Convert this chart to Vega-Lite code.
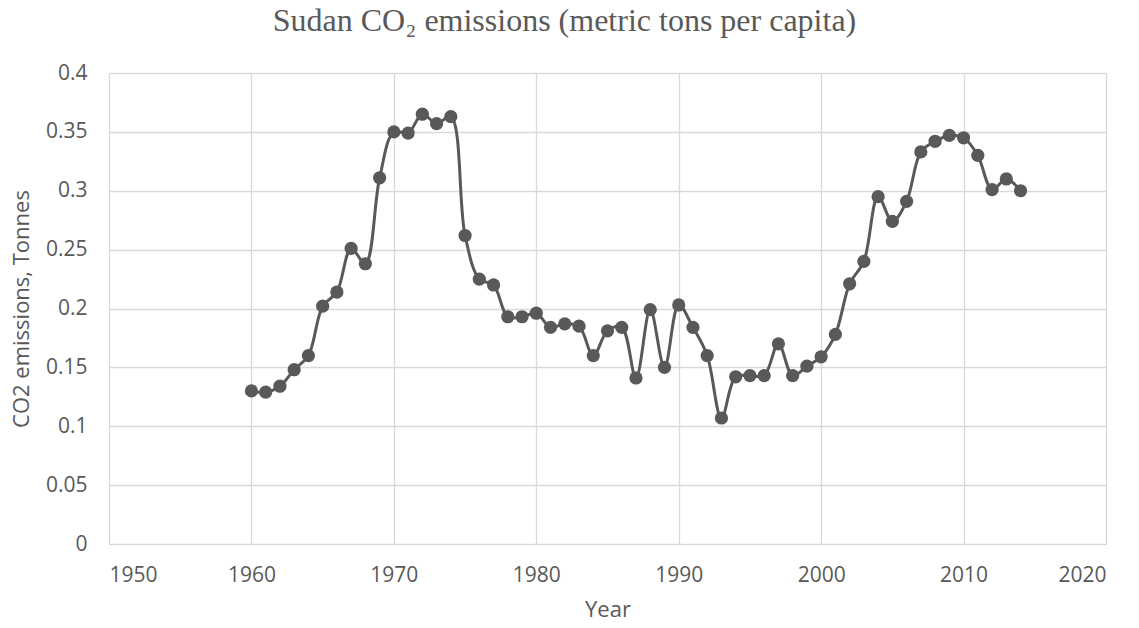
{
  "$schema": "https://vega.github.io/schema/vega-lite/v6.json",
  "width": 997,
  "height": 471,
  "autosize": {"type": "none"},
  "padding": {"left": 109, "top": 73, "right": 33, "bottom": 84},
  "background": "white",
  "title": {
    "text": "Sudan CO₂ emissions (metric tons per capita)",
    "font": "Liberation Serif",
    "fontSize": 32,
    "fontWeight": "normal",
    "color": "#595959",
    "anchor": "middle",
    "offset": 24,
    "dx": -43
  },
  "data": {
    "values": [
      {"Year": 1960, "CO2": 0.130},
      {"Year": 1961, "CO2": 0.129},
      {"Year": 1962, "CO2": 0.134},
      {"Year": 1963, "CO2": 0.148},
      {"Year": 1964, "CO2": 0.160},
      {"Year": 1965, "CO2": 0.202},
      {"Year": 1966, "CO2": 0.214},
      {"Year": 1967, "CO2": 0.251},
      {"Year": 1968, "CO2": 0.238},
      {"Year": 1969, "CO2": 0.311},
      {"Year": 1970, "CO2": 0.350},
      {"Year": 1971, "CO2": 0.349},
      {"Year": 1972, "CO2": 0.365},
      {"Year": 1973, "CO2": 0.357},
      {"Year": 1974, "CO2": 0.363},
      {"Year": 1975, "CO2": 0.262},
      {"Year": 1976, "CO2": 0.225},
      {"Year": 1977, "CO2": 0.220},
      {"Year": 1978, "CO2": 0.193},
      {"Year": 1979, "CO2": 0.193},
      {"Year": 1980, "CO2": 0.196},
      {"Year": 1981, "CO2": 0.184},
      {"Year": 1982, "CO2": 0.187},
      {"Year": 1983, "CO2": 0.185},
      {"Year": 1984, "CO2": 0.160},
      {"Year": 1985, "CO2": 0.181},
      {"Year": 1986, "CO2": 0.184},
      {"Year": 1987, "CO2": 0.141},
      {"Year": 1988, "CO2": 0.199},
      {"Year": 1989, "CO2": 0.150},
      {"Year": 1990, "CO2": 0.203},
      {"Year": 1991, "CO2": 0.184},
      {"Year": 1992, "CO2": 0.160},
      {"Year": 1993, "CO2": 0.107},
      {"Year": 1994, "CO2": 0.142},
      {"Year": 1995, "CO2": 0.143},
      {"Year": 1996, "CO2": 0.143},
      {"Year": 1997, "CO2": 0.170},
      {"Year": 1998, "CO2": 0.143},
      {"Year": 1999, "CO2": 0.151},
      {"Year": 2000, "CO2": 0.159},
      {"Year": 2001, "CO2": 0.178},
      {"Year": 2002, "CO2": 0.221},
      {"Year": 2003, "CO2": 0.240},
      {"Year": 2004, "CO2": 0.295},
      {"Year": 2005, "CO2": 0.274},
      {"Year": 2006, "CO2": 0.291},
      {"Year": 2007, "CO2": 0.333},
      {"Year": 2008, "CO2": 0.342},
      {"Year": 2009, "CO2": 0.347},
      {"Year": 2010, "CO2": 0.345},
      {"Year": 2011, "CO2": 0.330},
      {"Year": 2012, "CO2": 0.301},
      {"Year": 2013, "CO2": 0.310},
      {"Year": 2014, "CO2": 0.300}
    ]
  },
  "encoding": {
    "x": {
      "field": "Year",
      "type": "quantitative",
      "scale": {"domain": [1950, 2020], "nice": false, "zero": false},
      "axis": {"values": [1950, 1960, 1970, 1980, 1990, 2000, 2010, 2020], "format": "d", "title": "Year", "labelPadding": 20, "titlePadding": 14}
    },
    "y": {
      "field": "CO2",
      "type": "quantitative",
      "scale": {"domain": [0, 0.4], "nice": false},
      "axis": {"values": [0, 0.05, 0.1, 0.15, 0.2, 0.25, 0.3, 0.35, 0.4], "format": "~g", "title": "CO2 emissions, Tonnes", "labelPadding": 22, "titlePadding": 12}
    }
  },
  "layer": [
    {
      "mark": {"type": "line", "color": "#595959", "strokeWidth": 3, "interpolate": "catmull-rom"}
    },
    {
      "mark": {"type": "point", "filled": true, "opacity": 1, "color": "#595959", "size": 175}
    }
  ],
  "config": {
    "view": {"stroke": null},
    "axis": {
      "domain": false,
      "ticks": false,
      "grid": true,
      "gridColor": "#d9d9d9",
      "gridWidth": 1.3,
      "labelFont": "Open Sans",
      "labelFontSize": 21,
      "labelColor": "#595959",
      "titleFont": "Open Sans",
      "titleFontSize": 22,
      "titleFontWeight": "normal",
      "titleColor": "#595959"
    }
  }
}
